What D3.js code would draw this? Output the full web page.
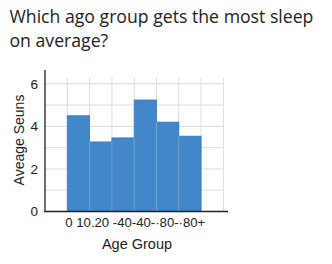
<!DOCTYPE html>
<html><head><meta charset="utf-8">
<script src="https://cdn.jsdelivr.net/npm/d3@7"></script>
<style>body{margin:0;background:#fff}svg{display:block}</style>
</head><body>
<svg id="c" width="332" height="264"></svg>
<script>
const titleLines = ["Which ago group gets the most sleep", "on average?"];
const categories = ["g1","g2","g3","g4","g5","g6","g7","g8"];
const values = [null, 4.5, 3.27, 3.46, 5.24, 4.2, 3.54, null];
const xTickLabels = ["0 10.20 -40-40-·80-·80+"];
const yTicks = [0, 2, 4, 6];
const xTitle = "Age Group";
const yTitle = "Aveage Seuns";

const svg = d3.select("#c");
const font = "'Liberation Sans', Arial, sans-serif";
const tfont = "'Open Sans', 'Noto Sans', sans-serif";
const titles = svg.selectAll("text.title").data(titleLines).join("text")
  .attr("class", "title")
  .attr("x", 9.5).attr("y", (d,i)=>23.3 + i*23.7)
  .attr("font-family", tfont).attr("font-size", 15.5).attr("fill", "#222")
  .text(d=>d);
const w0 = titles.node().getComputedTextLength();
if (w0 > 0) titles.attr("font-size", 15.5 * 304 / w0);

const L = 45, R = 223.4, T = 70, B = 211.5;
const x = d3.scaleBand().domain(categories).range([L, R]).padding(0);
const y = d3.scaleLinear().domain([0, 6.65]).range([B, T]);

const g = svg.append("g");
g.selectAll("line.hg").data(d3.range(1, 7)).join("line")
  .attr("x1", L).attr("x2", R).attr("y1", d=>y(d)).attr("y2", d=>y(d))
  .attr("stroke", "#dcdcdc").attr("stroke-width", 1);
g.selectAll("line.vg").data(categories).join("line")
  .attr("x1", d=>x(d)+x.bandwidth()).attr("x2", d=>x(d)+x.bandwidth())
  .attr("y1", y(6.3)).attr("y2", B)
  .attr("stroke", "#dcdcdc").attr("stroke-width", 1);

g.selectAll("rect.bar").data(categories.map((c,i)=>({c, v: values[i]})).filter(d=>d.v!=null)).join("rect")
  .attr("x", d=>x(d.c)).attr("width", x.bandwidth())
  .attr("y", d=>y(d.v)).attr("height", d=>B - y(d.v))
  .attr("fill", "#4187c9").attr("stroke", "#3a7cbf").attr("stroke-width", 0.8);
const barCats = categories.filter((c,i)=>values[i]!=null);
g.selectAll("line.sep").data(barCats.slice(1)).join("line")
  .attr("x1", d=>x(d)).attr("x2", d=>x(d))
  .attr("y1", (d)=>y(Math.min(values[categories.indexOf(d)], values[categories.indexOf(d)-1]))).attr("y2", B)
  .attr("stroke", "#7fb0de").attr("stroke-width", 0.8);

const ya = d3.axisLeft(y).tickValues(yTicks).tickSize(0).tickPadding(7).tickFormat(d3.format("d"));
const yg = svg.append("g").attr("transform", `translate(${L},0)`).call(ya);
yg.select(".domain").attr("stroke", "#222").attr("stroke-width", 1.3).attr("d", `M0,${T}V${B}`);
yg.selectAll("text").attr("font-family", font).attr("font-size", 13.5).attr("fill", "#222");

svg.append("line").attr("x1", L - 1).attr("x2", 228).attr("y1", B).attr("y2", B)
  .attr("stroke", "#222").attr("stroke-width", 1.3);

svg.selectAll("text.xl").data(xTickLabels).join("text")
  .attr("x", x("g2") - 2).attr("y", B + 15.5)
  .attr("text-anchor", "start")
  .attr("font-family", font).attr("font-size", 13).attr("fill", "#222")
  .attr("textLength", 140).attr("lengthAdjust", "spacingAndGlyphs")
  .text(d=>d);

svg.append("text").attr("x", 137).attr("y", 249).attr("text-anchor", "middle")
  .attr("font-family", font).attr("font-size", 14.5).attr("fill", "#222").text(xTitle);
svg.append("text").attr("transform", `translate(24,${140}) rotate(-90)`)
  .attr("text-anchor", "middle")
  .attr("font-family", font).attr("font-size", 14).attr("fill", "#222").text(yTitle);
</script>
</body></html>
